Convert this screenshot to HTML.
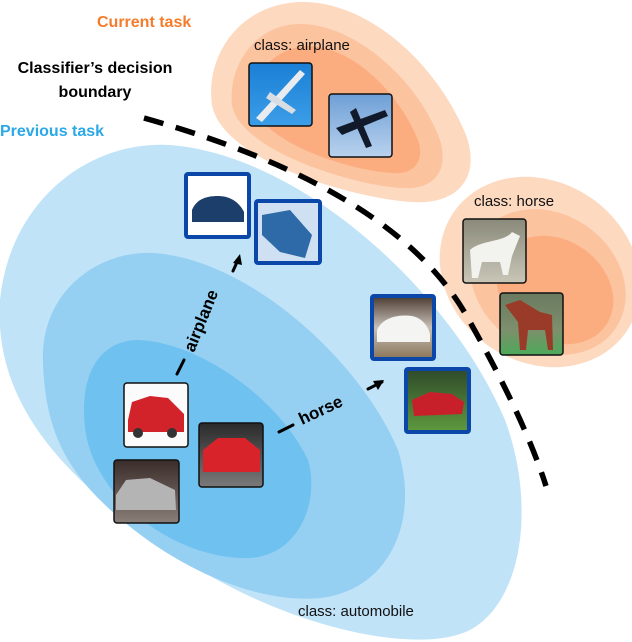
<!DOCTYPE html>
<html><head><meta charset="utf-8"><style>
html,body{margin:0;padding:0;background:#fff;width:632px;height:642px;overflow:hidden}
svg{display:block}
text{font-family:"Liberation Sans",Arial,sans-serif}
</style></head><body>
<svg width="632" height="642" viewBox="0 0 632 642" xmlns="http://www.w3.org/2000/svg">
<defs>
<linearGradient id="sky" x1="0" y1="0" x2="0" y2="1"><stop offset="0" stop-color="#1a7fd6"/><stop offset="1" stop-color="#3c9ee8"/></linearGradient>
<linearGradient id="sky2" x1="0" y1="0" x2="0" y2="1"><stop offset="0" stop-color="#6e9fd6"/><stop offset="1" stop-color="#b9d2ee"/></linearGradient>
<linearGradient id="grass" x1="0" y1="0" x2="0" y2="1"><stop offset="0" stop-color="#6b7a60"/><stop offset="0.6" stop-color="#7d8f6c"/><stop offset="1" stop-color="#4caa5a"/></linearGradient>
<linearGradient id="wh" x1="0" y1="0" x2="0" y2="1"><stop offset="0" stop-color="#8a8a7a"/><stop offset="1" stop-color="#c9c6b8"/></linearGradient>
<linearGradient id="dirt" x1="0" y1="0" x2="0" y2="1"><stop offset="0" stop-color="#4a3a30"/><stop offset="0.5" stop-color="#c8c0b8"/><stop offset="1" stop-color="#8a7558"/></linearGradient>
<linearGradient id="gr2" x1="0" y1="0" x2="0" y2="1"><stop offset="0" stop-color="#2f4a2a"/><stop offset="1" stop-color="#5e9a3e"/></linearGradient>
<linearGradient id="dk" x1="0" y1="0" x2="0" y2="1"><stop offset="0" stop-color="#2a2a2a"/><stop offset="1" stop-color="#7a7a7a"/></linearGradient>
<linearGradient id="dk2" x1="0" y1="0" x2="0" y2="1"><stop offset="0" stop-color="#3a2c2a"/><stop offset="1" stop-color="#8a7e78"/></linearGradient>
</defs>

<!-- blue blobs -->
<path d="M0,300 C10,200 90,140 170,145 C300,155 450,290 505,420 C535,500 525,600 470,630 C420,655 300,630 200,570 C90,500 -8,420 0,300 Z" fill="#c0e3f8"/>
<path d="M43,363 C40,290 100,250 154,253 C250,260 360,360 398,450 C420,520 390,590 320,598 C250,605 160,560 100,500 C60,460 45,420 43,363 Z" fill="#95d0f3"/>
<path d="M84,410 C84,360 110,340 138,340 C200,342 280,400 308,460 C320,500 300,555 250,558 C190,560 130,520 105,480 C92,460 84,440 84,410 Z" fill="#6fc1ef"/>

<!-- orange airplane blobs -->
<path d="M212,105 C205,55 240,4 300,2 C365,0 435,60 466,135 C482,180 455,205 412,202 C350,198 222,160 212,105 Z" fill="#fdd9c0"/>
<path d="M232,105 C228,62 258,24 300,24 C355,24 418,80 440,140 C450,175 430,190 402,188 C350,185 240,150 232,105 Z" fill="#fcc39f"/>
<path d="M252,100 C252,72 278,46 310,46 C355,48 400,95 418,140 C426,165 410,175 392,173 C345,170 256,140 252,100 Z" fill="#fbad80"/>
<!-- orange horse blobs -->
<ellipse cx="540" cy="272" rx="105" ry="90" transform="rotate(35 540 272)" fill="#fdd9c0"/>
<ellipse cx="548" cy="282" rx="82" ry="68" transform="rotate(35 548 282)" fill="#fcc39f"/>
<ellipse cx="555" cy="290" rx="62" ry="50" transform="rotate(35 555 290)" fill="#fbad80"/>

<!-- decision boundary -->
<path d="M144,118 Q400,190 470,322 Q525,420 546,486" fill="none" stroke="#000" stroke-width="5.5" stroke-dasharray="20,13"/>

<!-- texts -->
<text x="97" y="27" font-size="16" font-weight="bold" fill="#f47c2c">Current task</text>
<text x="95" y="73" font-size="16" font-weight="bold" text-anchor="middle" fill="#000">Classifier’s decision</text>
<text x="95" y="97" font-size="16" font-weight="bold" text-anchor="middle" fill="#000">boundary</text>
<text x="0" y="136" font-size="16" font-weight="bold" fill="#2ba8e6">Previous task</text>
<text x="254" y="50" font-size="15" fill="#111">class: airplane</text>
<text x="474" y="206" font-size="15" fill="#111">class: horse</text>
<text x="298" y="616" font-size="15" fill="#111">class: automobile</text>

<!-- airplane images -->
<rect x="249" y="63" width="63" height="63" rx="3" fill="url(#sky)" stroke="#111" stroke-width="1.5"/>
<path d="M256,118 L300,70 L305,74 L262,122 Z" fill="#e8ecf0"/>
<path d="M270,92 L296,110 L292,114 L266,98 Z" fill="#d8dde4"/>
<rect x="329" y="94" width="63" height="63" rx="3" fill="url(#sky2)" stroke="#111" stroke-width="1.5"/>
<path d="M336,128 L385,110 L388,116 L342,135 Z M356,108 L372,146 L366,148 L350,112 Z" fill="#111a2a"/>
<!-- horse images -->
<rect x="463" y="219" width="63" height="64" rx="3" fill="url(#wh)" stroke="#111" stroke-width="1.5"/>
<path d="M470,250 C480,240 505,242 512,232 L520,236 L512,256 L508,275 L503,275 L500,262 L482,262 L478,278 L472,278 Z" fill="#f2f2ee"/>
<rect x="500" y="293" width="63" height="62" rx="3" fill="url(#grass)" stroke="#111" stroke-width="1.5"/>
<path d="M505,305 L520,300 L540,312 L552,315 L553,350 L548,350 L545,330 L528,330 L526,350 L520,350 L518,322 Z" fill="#9a3a28"/>

<!-- blue-framed cars -->
<rect x="186" y="174" width="63" height="63" rx="2" fill="#fff" stroke="#0a47a8" stroke-width="4"/>
<path d="M192,210 C196,200 205,196 218,196 C232,196 240,204 244,212 L244,222 L192,222 Z" fill="#1c3e6a"/>
<rect x="256" y="201" width="64" height="62" rx="2" fill="#cfe0f2" stroke="#0a47a8" stroke-width="4"/>
<path d="M262,215 L290,210 L312,235 L305,258 L280,252 L262,235 Z" fill="#2f6aa8"/>
<rect x="372" y="296" width="62" height="63" rx="2" fill="url(#dirt)" stroke="#0a47a8" stroke-width="4"/>
<path d="M377,330 C382,318 398,314 412,316 C422,318 428,326 430,334 L430,342 L377,342 Z" fill="#f4f4f2"/>
<rect x="406" y="369" width="63" height="63" rx="2" fill="url(#gr2)" stroke="#0a47a8" stroke-width="4"/>
<path d="M412,400 L430,392 L452,394 L464,402 L462,414 L414,416 Z" fill="#c8202a"/>

<!-- red / silver cars -->
<rect x="124" y="383" width="64" height="64" rx="3" fill="#fbfbfb" stroke="#111" stroke-width="1.5"/>
<path d="M128,420 L132,402 L150,396 L168,398 L184,414 L184,432 L128,432 Z" fill="#d2222a"/>
<circle cx="138" cy="433" r="5" fill="#333"/><circle cx="172" cy="433" r="5" fill="#333"/>
<rect x="199" y="423" width="64" height="64" rx="3" fill="url(#dk)" stroke="#111" stroke-width="1.5"/>
<path d="M203,450 L218,438 L245,438 L260,450 L260,472 L203,472 Z" fill="#d9232a"/>
<rect x="114" y="460" width="65" height="63" rx="3" fill="url(#dk2)" stroke="#111" stroke-width="1.5"/>
<path d="M116,495 L126,480 L150,478 L175,490 L176,510 L116,510 Z" fill="#b4b4b4"/>

<!-- arrows -->
<g stroke="#000" stroke-width="3" fill="none" stroke-linecap="round">
<line x1="177" y1="374" x2="184" y2="360"/>
<line x1="233" y1="271" x2="238" y2="260"/>
<line x1="279" y1="432" x2="293" y2="425"/>
<line x1="368" y1="389" x2="382" y2="382"/>
</g>
<path d="M240,254 L233,263 L242,265 Z" fill="#000"/>
<path d="M384,380 L373,381 L378,390 Z" fill="#000"/>
<text x="0" y="0" font-size="17" font-weight="bold" fill="#000" transform="translate(194,353) rotate(-68)">airplane</text>
<text x="0" y="0" font-size="17" font-weight="bold" fill="#000" transform="translate(302,425) rotate(-25)">horse</text>
</svg>
</body></html>
